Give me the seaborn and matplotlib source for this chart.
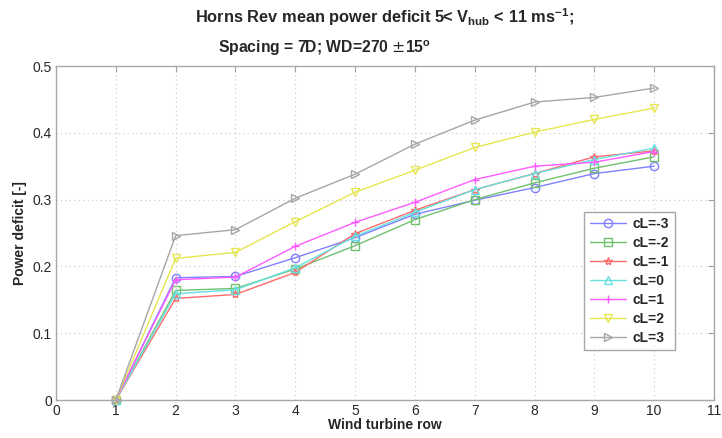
import matplotlib
matplotlib.use("Agg")
import matplotlib.pyplot as plt
import seaborn as sns
import pandas as pd

# wind turbine rows and power deficit per cL setting
rows = [1, 2, 3, 4, 5, 6, 7, 8, 9, 10]
cl_labels = ["cL=-3", "cL=-2", "cL=-1", "cL=0", "cL=1", "cL=2", "cL=3"]
cl_m3 = [0.0, 0.183, 0.185, 0.213, 0.243, 0.278, 0.299, 0.318, 0.339, 0.350]
cl_m2 = [0.0, 0.164, 0.167, 0.196, 0.231, 0.270, 0.300, 0.325, 0.347, 0.364]
cl_m1 = [0.0, 0.152, 0.158, 0.191, 0.249, 0.284, 0.315, 0.339, 0.364, 0.373]
cl_0 = [0.0, 0.159, 0.165, 0.198, 0.245, 0.281, 0.315, 0.339, 0.360, 0.377]
cl_p1 = [0.0, 0.180, 0.184, 0.230, 0.266, 0.296, 0.330, 0.350, 0.356, 0.372]
cl_p2 = [0.0, 0.212, 0.221, 0.267, 0.311, 0.344, 0.378, 0.401, 0.420, 0.437]
cl_p3 = [0.0, 0.246, 0.255, 0.302, 0.338, 0.383, 0.419, 0.446, 0.453, 0.467]
series = [cl_m3, cl_m2, cl_m1, cl_0, cl_p1, cl_p2, cl_p3]

colors = ["#8080ff", "#70c070", "#ff6a6a", "#66e0e0", "#ff5cff", "#e6e650", "#a6a6a6"]
markers = ["o", "s", "*", "^", "+", "v", ">"]

df = pd.DataFrame({
    "row": rows * len(series),
    "deficit": [v for s in series for v in s],
    "cL": [lab for lab in cl_labels for _ in rows],
})

sns.set_style("white")
plt.rcParams["font.family"] = ["Liberation Sans", "DejaVu Sans"]

fig = plt.figure(figsize=(7.22, 4.38), dpi=100)
ax = fig.add_axes([56 / 722, 1 - 400 / 438, 658 / 722, 334 / 438])

for lab, col, mk in zip(cl_labels, colors, markers):
    sns.lineplot(
        data=df[df["cL"] == lab], x="row", y="deficit", ax=ax,
        color=col, marker=mk, markersize=6, markerfacecolor="none",
        markeredgecolor=col, markeredgewidth=1.0, linewidth=1.0,
        label=lab, clip_on=False,
    )

ax.set_xlim(0, 11)
ax.set_ylim(0, 0.5)
ax.set_xticks(range(0, 12))
ax.set_yticks([0, 0.1, 0.2, 0.3, 0.4, 0.5])
ax.set_yticklabels(["0", "0.1", "0.2", "0.3", "0.4", "0.5"])
ax.grid(True, linestyle=(0, (1, 3)), color="#c8c8c8", linewidth=0.8)
ax.tick_params(direction="in", length=4, top=True, right=True, color="#a0a0a0",
               labelsize=10, pad=3)
for sp in ax.spines.values():
    sp.set_color("#a8a8a8")
    sp.set_linewidth(1.0)

ax.set_xlabel("Wind turbine row", fontsize=10, fontweight="bold", labelpad=0)
ax.set_ylabel("Power deficit [-]", fontsize=10, fontweight="bold", labelpad=4)

fig.text(195 / 722, 1 - 17 / 438,
         r"Horns Rev mean power deficit 5< V$_{\mathregular{hub}}$ < 11 ms$^{\mathregular{-1}}$;",
         fontsize=11.8, fontweight="bold", ha="left", va="center")
fig.text(218 / 722, 1 - 48 / 438,
         r"Spacing = 7D; WD=270 $\pm$15$^{\mathregular{o}}$",
         fontsize=11.3, fontweight="bold", ha="left", va="center")

leg = ax.legend(loc="lower left", bbox_to_anchor=((577 - 56) / 658, (400 - 357) / 334),
                fontsize=10, frameon=True, fancybox=False, handlelength=2.6,
                borderpad=0.4, labelspacing=0.35, handletextpad=0.5)
leg.get_frame().set_edgecolor("#909090")
leg.get_frame().set_linewidth(1.0)
for t in leg.get_texts():
    t.set_fontweight("bold")

fig.savefig("out.png", dpi=100)
